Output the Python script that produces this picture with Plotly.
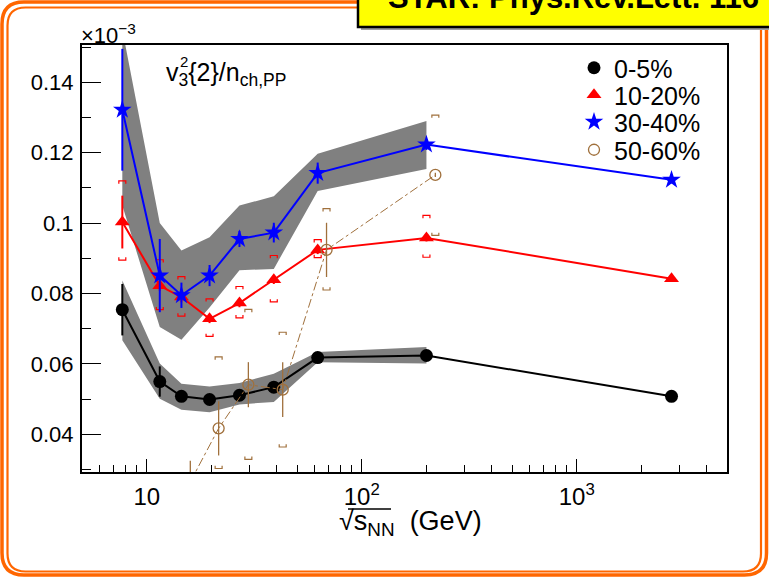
import plotly.graph_objects as go

# ---------------- data ----------------
energy = [7.7, 11.5, 14.5, 19.6, 27, 39, 62.4, 200, 2760]
band_energy = [7.7, 11.5, 14.5, 19.6, 27, 39, 62.4, 200]

c0_5 = [0.0754, 0.0550, 0.0508, 0.0499, 0.0511, 0.0534, 0.0618, 0.0624, 0.0508]
c0_5_err = [0.0073, 0.0043, 0.0015, 0.0012, 0.0012, 0.0012, 0.0010, 0.0010, 0.0008]
c0_5_sys_hi = [0.0837, 0.0601, 0.0544, 0.0536, 0.0546, 0.0572, 0.0634, 0.0648]
c0_5_sys_lo = [0.0667, 0.0501, 0.0470, 0.0463, 0.0485, 0.0492, 0.0605, 0.0601]

c10_20 = [0.1003, 0.0822, 0.0790, 0.0728, 0.0773, 0.0839, 0.0924, 0.0958, 0.0842]
c10_20_err = [0.0075, 0.0015, 0.0015, 0.0012, 0.0012, 0.0012, 0.0012, 0.0010, 0.0008]
c10_20_sys_hi = [0.1120, 0.0896, 0.0848, 0.0785, 0.0820, 0.0908, 0.0953, 0.1022, None]
c10_20_sys_lo = [0.0895, 0.0754, 0.0736, 0.0678, 0.0731, 0.0776, 0.0902, 0.0903, None]

c30_40 = [0.1322, 0.0851, 0.0795, 0.0851, 0.0955, 0.0973, 0.1142, 0.1223, 0.1123]
c30_40_err = [0.0173, 0.0104, 0.0036, 0.0030, 0.0023, 0.0028, 0.0030, 0.0015, 0.0010]
c30_40_sys_hi = [0.1550, 0.1000, 0.0922, 0.0960, 0.1050, 0.1076, 0.1197, 0.1290]
c30_40_sys_lo = [0.1050, 0.0705, 0.0669, 0.0760, 0.0866, 0.0870, 0.1091, 0.1154]

energy_50_60 = [15.95, 21.6, 29.7, 42.9, 68.6, 220]
c50_60 = [0.0265, 0.0417, 0.0541, 0.0527, 0.0924, 0.1137]
c50_60_err = [0.0060, 0.0077, 0.0064, 0.0078, 0.0077, 0.0006]
c50_60_sys_hi = [None, 0.0620, 0.0755, 0.0690, 0.1041, 0.1307]
c50_60_sys_lo = [None, 0.0303, 0.0329, 0.0364, 0.0810, 0.0965]

labels = ["0-5%", "10-20%", "30-40%", "50-60%"]
x_tickvals = [10, 100, 1000]
x_ticktext = ["10", "10<sup>2</sup>", "10<sup>3</sup>"]
y_tickvals = [0.04, 0.06, 0.08, 0.1, 0.12, 0.14]
y_ticktext = ["0.04", "0.06", "0.08", "0.1", "0.12", "0.14"]

BLACK, RED, BLUE, BROWN, GRAY = "#000000", "#ff0000", "#0000ff", "#a0703c", "#808080"
FONT = "Liberation Sans, Arial, Helvetica, sans-serif"

# ---------------- layout geometry (px) ----------------
W, H = 769, 577
ML, MR, MT, MB = 82, 42, 45, 105
PW, PH = W - ML - MR, H - MT - MB


def px_x(px):
    return (px - ML) / PW


def px_y(py):
    return (H - MB - py) / PH


fig = go.Figure()


def band(xs, hi, lo, color):
    fig.add_trace(go.Scatter(
        x=list(xs) + list(xs)[::-1], y=list(hi) + list(lo)[::-1],
        fill="toself", fillcolor=color, line=dict(width=0), mode="lines",
        hoverinfo="skip", showlegend=False))


def brackets(xs, hi, lo, color, f=1.038, h=0.0008):
    bx, by = [], []
    for x, t, b in zip(xs, hi, lo):
        if t is None or b is None:
            continue
        bx += [x / f, x / f, x * f, x * f, None, x / f, x / f, x * f, x * f, None]
        by += [t - h, t, t, t - h, None, b + h, b, b, b + h, None]
    fig.add_trace(go.Scatter(x=bx, y=by, mode="lines", line=dict(color=color, width=1.2),
                             hoverinfo="skip", showlegend=False))


def series(xs, ys, err, color, symbol, size, name, legend, lw=2, dash="solid", mline=None):
    fig.add_trace(go.Scatter(
        x=xs, y=ys, mode="lines", line=dict(color=color, width=lw, dash=dash),
        showlegend=False, hoverinfo="skip"))
    marker = dict(color=color, symbol=symbol, size=size)
    if mline:
        marker["line"] = mline
    fig.add_trace(go.Scatter(
        x=xs, y=ys, mode="markers", marker=marker, name=name, legend=legend,
        error_y=dict(type="data", array=err, color=color, thickness=2 if lw > 1 else 1.3, width=0)))


band(band_energy, c0_5_sys_hi, c0_5_sys_lo, GRAY)
band(band_energy, c30_40_sys_hi, c30_40_sys_lo, GRAY)

series(energy, c0_5, c0_5_err, BLACK, "circle", 13, labels[0], "legend")
brackets(energy, c10_20_sys_hi, c10_20_sys_lo, RED)
series(energy, c10_20, c10_20_err, RED, "triangle-up", 13, labels[1], "legend2")
series(energy, c30_40, c30_40_err, BLUE, "star", 14, labels[2], "legend3")
brackets(energy_50_60, c50_60_sys_hi, c50_60_sys_lo, BROWN)
series(energy_50_60, c50_60, c50_60_err, BROWN, "circle-open", 11, labels[3], "legend4",
       lw=1, dash="dashdot", mline=dict(color=BROWN, width=1.3))

minor_x = [v * d for d in (1, 10, 100, 1000) for v in range(2, 10) if 5 <= v * d <= 5000 and v * d not in x_tickvals]

fig.update_xaxes(
    type="log", range=[0.69897, 3.69897],
    tickvals=x_tickvals, ticktext=x_ticktext,
    ticks="inside", ticklen=13, tickwidth=1.3, tickcolor="black",
    minor=dict(tickvals=minor_x, ticks="inside", ticklen=7, tickwidth=1.3, tickcolor="black"),
    showline=True, linecolor="black", linewidth=2, mirror=True,
    showgrid=False, zeroline=False,
    tickfont=dict(family=FONT, size=24, color="black"), ticklabelstandoff=2,
)
fig.update_yaxes(
    range=[0.0293, 0.1506],
    tickvals=y_tickvals, ticktext=y_ticktext,
    ticks="inside", ticklen=19, tickwidth=1.3, tickcolor="black",
    minor=dict(dtick=0.01, tick0=0, ticks="inside", ticklen=9, tickwidth=1.3, tickcolor="black"),
    showline=True, linecolor="black", linewidth=2, mirror=True,
    showgrid=False, zeroline=False,
    tickfont=dict(family=FONT, size=22, color="black"), ticklabelstandoff=2,
)


def rounded_rect(x0, y0, x1, y1, r):
    X0, X1 = px_x(x0), px_x(x1)
    Y0, Y1 = px_y(y0), px_y(y1)
    rx, ry = r / PW, r / PH
    return (f"M {X0+rx},{Y0} L {X1-rx},{Y0} Q {X1},{Y0} {X1},{Y0-ry} "
            f"L {X1},{Y1+ry} Q {X1},{Y1} {X1-rx},{Y1} L {X0+rx},{Y1} "
            f"Q {X0},{Y1} {X0},{Y1+ry} L {X0},{Y0-ry} Q {X0},{Y0} {X0+rx},{Y0} Z")


shapes = [
    dict(type="path", xref="paper", yref="paper", path=rounded_rect(2, 2, 766.5, 575, 22),
         line=dict(color="#ff6600", width=3.5), layer="below"),
    dict(type="path", xref="paper", yref="paper", path=rounded_rect(7.5, 7.5, 761, 571.5, 18),
         line=dict(color="#ff6600", width=2.2), layer="below"),
    dict(type="rect", xref="paper", yref="paper", x0=px_x(361), x1=px_x(780), y0=px_y(30), y1=px_y(-10),
         fillcolor="#a0a0a0", line=dict(width=0), layer="above"),
    dict(type="rect", xref="paper", yref="paper", x0=px_x(358), x1=px_x(780), y0=px_y(27), y1=px_y(-10),
         fillcolor="#ffff00", line=dict(color="black", width=2.5), layer="above"),
    # roof of the square-root sign in the axis title
    dict(type="line", xref="paper", yref="paper", x0=px_x(348), x1=px_x(391), y0=px_y(509), y1=px_y(509),
         line=dict(color="black", width=1.5)),
]

annotations = [
    dict(text="<b>STAR: Phys.Rev.Lett. 116</b>", xref="paper", yref="paper",
         x=px_x(386), y=px_y(17), xanchor="left", yanchor="bottom", showarrow=False,
         font=dict(family=FONT, size=31, color="black")),
    dict(text="×10<sup>−3</sup>", xref="paper", yref="paper", x=px_x(79), y=px_y(34),
         xanchor="left", yanchor="middle", showarrow=False,
         font=dict(family=FONT, size=22, color="black")),
    dict(text="v<sub>3</sub>{2}/n<sub>ch,PP</sub>", xref="paper", yref="paper",
         x=px_x(164), y=px_y(74), xanchor="left", yanchor="middle", showarrow=False,
         font=dict(family=FONT, size=25, color="black")),
    dict(text="2", xref="paper", yref="paper",
         x=px_x(178), y=px_y(61), xanchor="left", yanchor="middle", showarrow=False,
         font=dict(family=FONT, size=15, color="black")),
    dict(text="√s<sub>NN</sub>  (GeV)",
         xref="paper", yref="paper", x=px_x(411), y=px_y(523), xanchor="center", yanchor="middle",
         showarrow=False, font=dict(family=FONT, size=27, color="black")),
]

legend_y = [68, 95, 122, 150]
legend_common = dict(xanchor="left", yanchor="middle", bgcolor="rgba(0,0,0,0)", borderwidth=0,
                     itemwidth=30, font=dict(family=FONT, size=25, color="black"))

fig.update_layout(
    width=W, height=H,
    margin=dict(l=ML, r=MR, t=MT, b=MB, pad=0),
    paper_bgcolor="white", plot_bgcolor="white",
    shapes=shapes, annotations=annotations,
    showlegend=True,
    legend=dict(x=px_x(574), y=px_y(legend_y[0]), **legend_common),
    legend2=dict(x=px_x(574), y=px_y(legend_y[1]), **legend_common),
    legend3=dict(x=px_x(574), y=px_y(legend_y[2]), **legend_common),
    legend4=dict(x=px_x(574), y=px_y(legend_y[3]), **legend_common),
    font=dict(family=FONT, color="black"),
)

fig.write_html("out.html", config={"displayModeBar": False},
               post_script="document.body.style.margin='0';")
